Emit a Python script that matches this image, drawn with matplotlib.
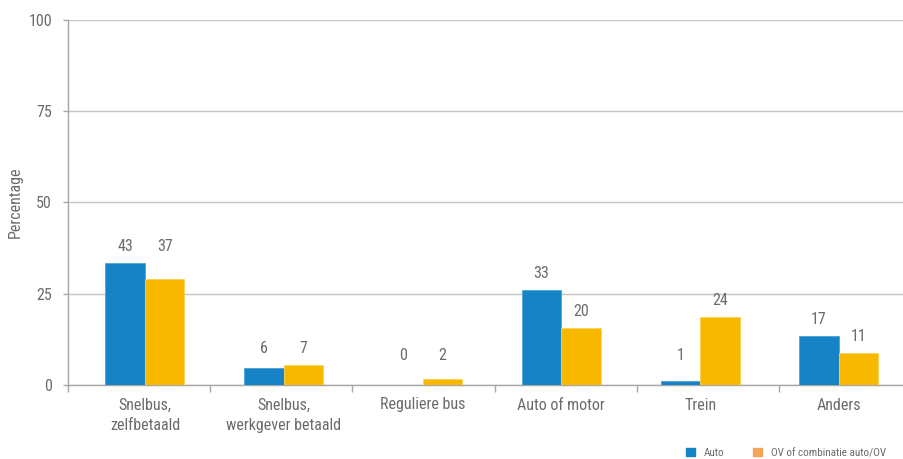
import numpy as np
import matplotlib
matplotlib.use("Agg")
import matplotlib.pyplot as plt
from matplotlib.patches import Patch

plt.rcParams['font.family'] = ['Liberation Sans Narrow', 'Roboto Condensed', 'Liberation Sans', 'DejaVu Sans']

categories = ["Snelbus,\nzelfbetaald", "Snelbus,\nwerkgever betaald", "Reguliere bus",
              "Auto of motor", "Trein", "Anders"]
series_names = ["Auto", "OV of combinatie auto/OV"]
# bar heights as drawn in the picture
auto_vals = [33.4, 4.7, 0.0, 26.0, 1.0, 13.4]
ov_vals = [29.0, 5.5, 1.7, 15.6, 18.7, 8.8]
# value labels printed above the bars
auto_labels = ["43", "6", "0", "33", "1", "17"]
ov_labels = ["37", "7", "2", "20", "24", "11"]
yticks = [0, 25, 50, 75, 100]

blue = "#1583C6"
orange = "#F9B800"
legend_orange = "#F5A55A"
txt = "#6b6b6b"
axc = "#a6a6a6"

fig = plt.figure(figsize=(9.04, 4.59), dpi=100)
ax = fig.add_axes([68/904, 74/459, 6*142.2/904, 365/459])

pos = 0.541 + 0.976*np.arange(len(categories))
w = 0.278
ax.bar(pos - w/2, auto_vals, w, color=blue, edgecolor="#4aa3d8", linewidth=0.6, zorder=3)
ax.bar(pos + w/2, ov_vals, w, color=orange, edgecolor="#fcd35a", linewidth=0.6, zorder=3)

for i in range(len(categories)):
    a, b = auto_vals[i], ov_vals[i]
    if abs(a - b) < 4.5:
        ya = yb = max(a, b)
    else:
        ya, yb = a, b
    ya = max(ya, 3.6)
    yb = max(yb, 3.6)
    ax.annotate(auto_labels[i], (pos[i] - w/2, ya), xytext=(0, 6.5), textcoords="offset points",
                ha="center", va="bottom", fontsize=11.5, color=txt)
    ax.annotate(ov_labels[i], (pos[i] + w/2, yb), xytext=(0, 6.5), textcoords="offset points",
                ha="center", va="bottom", fontsize=11.5, color=txt)

ax.set_xlim(0, 6)
ax.set_ylim(0, 100)
ax.set_yticks(yticks)
ax.set_yticklabels([str(v) for v in yticks])
ax.set_xticks(pos)
ax.set_xticklabels(categories, linespacing=1.45)
ax.set_xticks(np.arange(0, 6), minor=True)
ax.tick_params(axis="x", which="major", length=0, pad=9, labelsize=11.5, labelcolor=txt)
ax.tick_params(axis="x", which="minor", length=5, color=axc, width=1)
ax.tick_params(axis="y", length=3.5, color=axc, width=1, pad=8, labelsize=11.5, labelcolor=txt)

ax.grid(axis="y", color="#c4c4c4", linewidth=1, zorder=0)
ax.set_axisbelow(True)
for s in ["top", "right"]:
    ax.spines[s].set_visible(False)
for s in ["left", "bottom"]:
    ax.spines[s].set_color(axc)
    ax.spines[s].set_linewidth(1)

ax.set_ylabel("Percentage", fontsize=11.5, color=txt)
ax.yaxis.set_label_coords(-0.053, 0.5)

handles = [Patch(color=blue), Patch(color=legend_orange)]
fig.legend(handles, series_names, loc="center left", bbox_to_anchor=(686/904, 6/459),
           ncol=2, frameon=False, fontsize=8, handlelength=0.8, handleheight=0.8,
           handletextpad=0.8, columnspacing=2.6, borderpad=0, borderaxespad=0,
           labelcolor=txt)

fig.savefig("out.png", dpi=100)
